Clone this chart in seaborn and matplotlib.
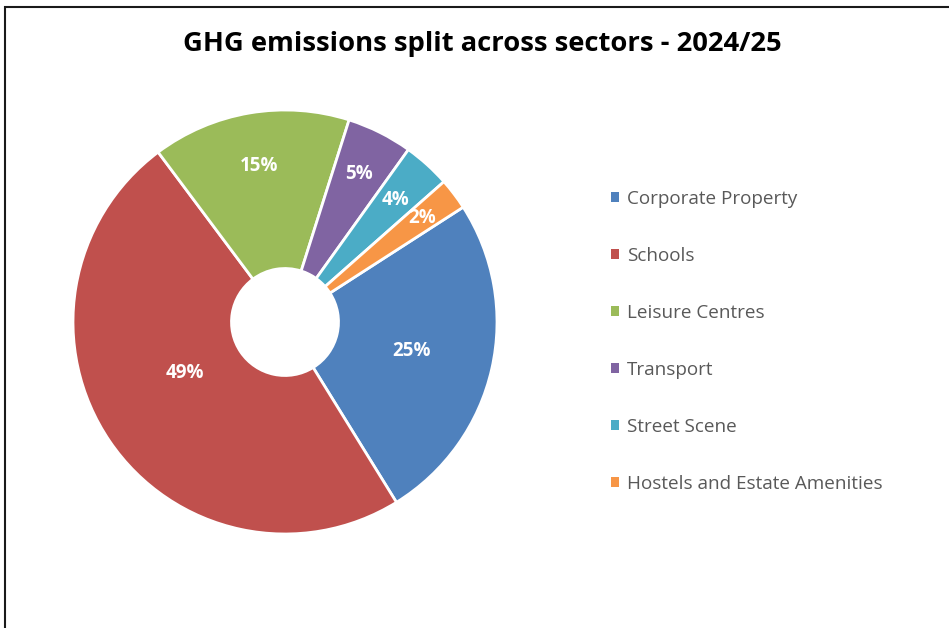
import numpy as np
import matplotlib.pyplot as plt
import seaborn as sns
from matplotlib.patches import Rectangle

# Datos
sectors = ['Corporate Property', 'Schools', 'Leisure Centres', 'Transport',
           'Street Scene', 'Hostels and Estate Amenities']
shares = [25.3, 48.6, 15.1, 5.0, 3.6, 2.4]
colors = ['#4F81BD', '#C0504D', '#9BBB59', '#8064A2', '#4BACC6', '#F79646']

# distancia radial y desfase angular de cada etiqueta
label_r = [0.61, 0.53, 0.745, 0.78, 0.775, 0.81]
label_shift = [0, -7, 0, 0, 0, 0]

sns.set_theme(style='white')
plt.rcParams['font.family'] = ['Open Sans', 'DejaVu Sans']

fig = plt.figure(figsize=(9.49, 6.28), dpi=100)
W, H = 949, 628
cx, cy, R = 285, 322, 212
side = 2.2 * R
ax = fig.add_axes([(cx - side / 2) / W, (H - cy - side / 2) / H, side / W, side / H])

wedges, texts, autotexts = ax.pie(
    shares, colors=colors, startangle=32.8, counterclock=False,
    autopct='%1.0f%%', radius=1,
    wedgeprops=dict(width=1 - 53.5 / R, edgecolor='white', linewidth=2),
    textprops=dict(color='white', fontsize=13.5, fontweight='bold'))

# reubicar etiquetas
for w, t, r, s in zip(wedges, autotexts, label_r, label_shift):
    mid = np.deg2rad((w.theta1 + w.theta2) / 2 + s)
    t.set_position((r * np.cos(mid), r * np.sin(mid)))
    t.set_ha('center')
    t.set_va('center')

ax.set_xlim(-1.1, 1.1)
ax.set_ylim(-1.1, 1.1)
ax.set_aspect('equal')
ax.axis('off')

fig.text(482 / W, 1 - 44 / H, 'GHG emissions split across sectors - 2024/25',
         ha='center', va='center', fontsize=19.7, fontweight='bold', color='black')

leg = fig.legend(wedges, sectors, loc='upper left',
                 bbox_to_anchor=(611 / W, 1 - 190 / H),
                 frameon=False, fontsize=13.6, labelcolor='#595959',
                 handlelength=0.4, handleheight=0.4, handletextpad=0.45,
                 labelspacing=2.06, borderaxespad=0, borderpad=0)
for h in leg.legend_handles:
    h.set_edgecolor('none')

# marco
fig.patches.append(Rectangle((5 / W, -0.1), 1.2, 1 + 0.1 - 7 / H,
                             transform=fig.transFigure, fill=False,
                             edgecolor='#1a1a1a', linewidth=1.5))

fig.savefig('out.png', dpi=100)
